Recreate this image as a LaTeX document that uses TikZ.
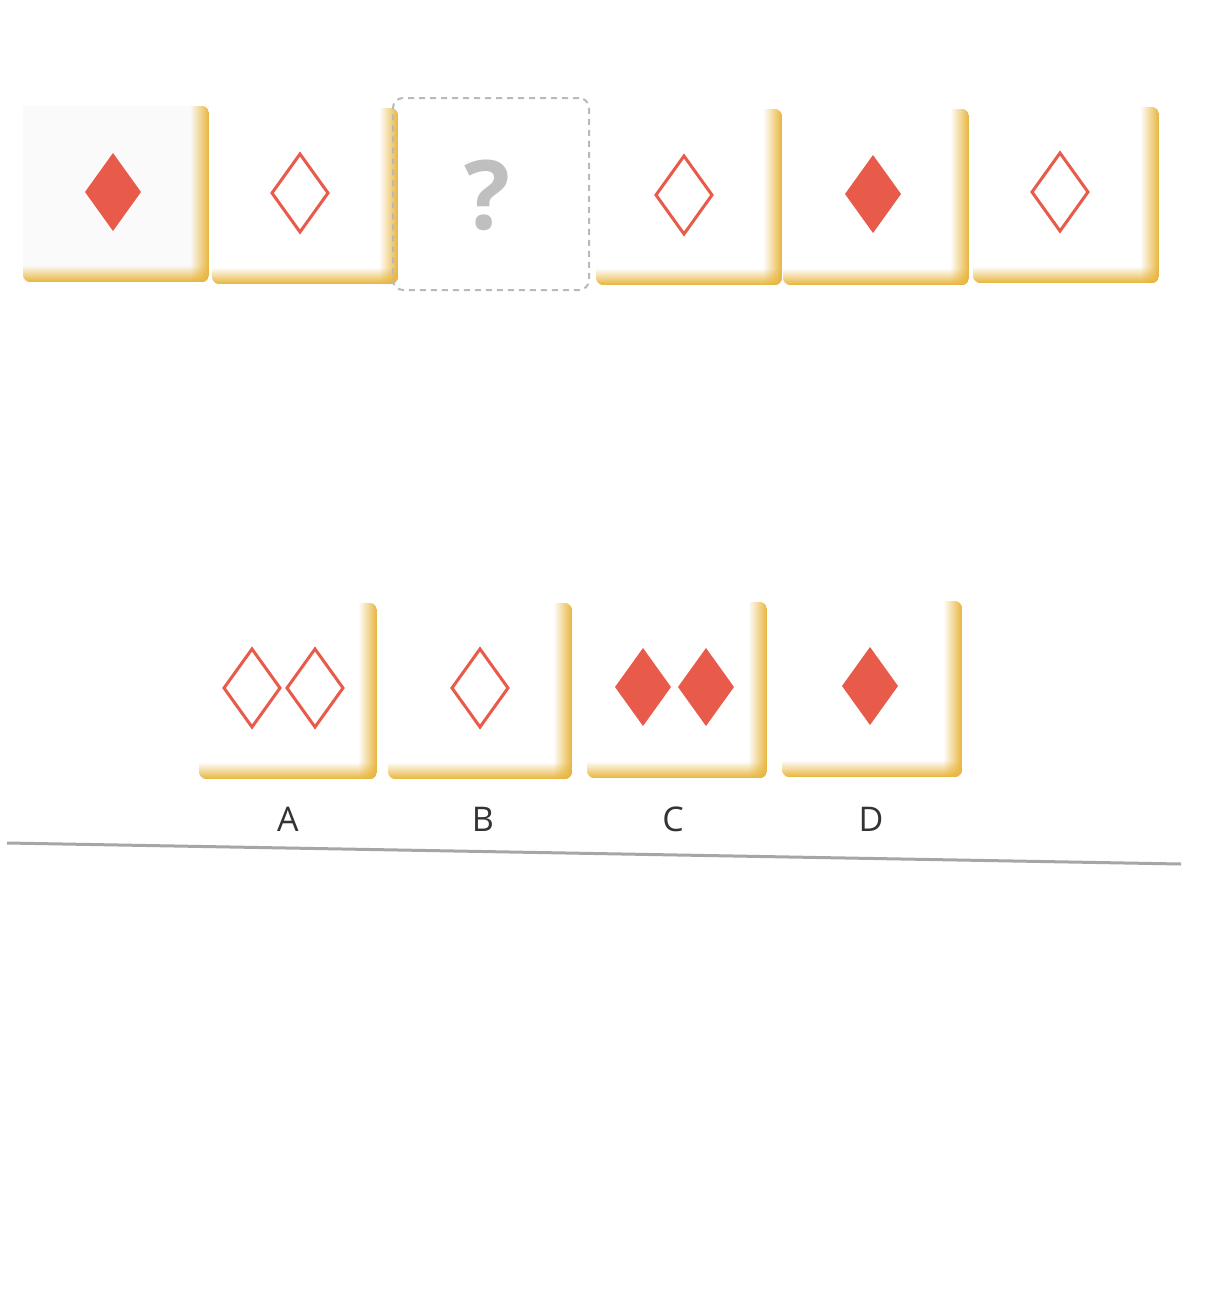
\documentclass[tikz,border=0pt]{standalone}
\usepackage{fontspec}
\setmainfont{Open Sans}
\usetikzlibrary{fadings}
\definecolor{tilegold}{HTML}{E8B43A}
\definecolor{suitred}{HTML}{E85A4A}
\definecolor{labelgray}{HTML}{333333}
\tikzfading[name=myfaderight, left color=transparent!100, right color=transparent!0]
\tikzfading[name=myfadebottom, top color=transparent!100, bottom color=transparent!0]
\tikzset{
  tilebox/.style={minimum width=#1, minimum height=176pt, inner sep=0pt, draw=none},
  tilebox/.default=186pt,
  qbox/.style={minimum width=196pt, minimum height=192pt, inner sep=0pt, draw=gray!55, line width=2pt, dash pattern=on 6pt off 5pt, rounded corners=10pt},
  fulld/.style={fill=suitred, draw=none},
  opend/.style={draw=suitred, line width=3pt, line join=miter, fill=none},
  lbl/.style={text=labelgray, font=\fontsize{34}{34}\selectfont, inner sep=0pt},
  qmark/.style={text=gray!50, font=\bfseries\fontsize{96}{96}\selectfont, inner sep=0pt},
  rule/.style={draw=gray!70, line width=3pt}
}
% golden inner edge on right and bottom of a tile
\newcommand{\goldedge}[1]{%
  \begin{scope}
    \clip[rounded corners=8pt] (#1.north west) rectangle (#1.south east);
    \fill[tilegold, path fading=myfaderight] ([xshift=-19pt]#1.north east) rectangle (#1.south east);
    \fill[tilegold, path fading=myfadebottom] ([yshift=17pt]#1.south west) rectangle (#1.south east);
  \end{scope}}
% diamonds: centre, style
\newcommand{\suit}[3]{%
  \path[#3] (#1,#2-39) -- (#1+28,#2) -- (#1,#2+39) -- (#1-28,#2) -- cycle;}
\begin{document}
\begin{tikzpicture}[x=1pt,y=-1pt]
\useasboundingbox[fill=white] (0,0) rectangle (1207,1296);

% top row
\node[tilebox, fill=black!2] (t1) at (116,194) {};
\goldedge{t1}
\node[tilebox] (t2) at (305,196) {};
\goldedge{t2}
\node[qbox] (t3) at (491,194) {};
\node[qmark] (q) at (487,195) {?};
\node[tilebox] (t4) at (689,197) {};
\goldedge{t4}
\node[tilebox] (t5) at (876,197) {};
\goldedge{t5}
\node[tilebox] (t6) at (1066,195) {};
\goldedge{t6}

\suit{113}{192}{fulld}
\suit{300}{193}{opend}
\suit{684}{195}{opend}
\suit{873}{194}{fulld}
\suit{1060}{192}{opend}

% answer row
\node[tilebox=178pt] (a) at (288,691) {};
\goldedge{a}
\node[tilebox=184pt] (b) at (480,691) {};
\goldedge{b}
\node[tilebox=180pt] (c) at (677,690) {};
\goldedge{c}
\node[tilebox=180pt] (d) at (872,689) {};
\goldedge{d}

\suit{252}{688}{opend}
\suit{315}{688}{opend}
\suit{480}{688}{opend}
\suit{643}{687}{fulld}
\suit{706}{687}{fulld}
\suit{870}{686}{fulld}

\node[lbl] (la) at (288,819) {A};
\node[lbl] (lb) at (483,819) {B};
\node[lbl] (lc) at (673,819) {C};
\node[lbl] (ld) at (871,819) {D};

% rule
\coordinate (r1) at (7,843);
\coordinate (r2) at (1181,864);
\draw[rule] (r1) -- (r2);
\end{tikzpicture}
\end{document}
